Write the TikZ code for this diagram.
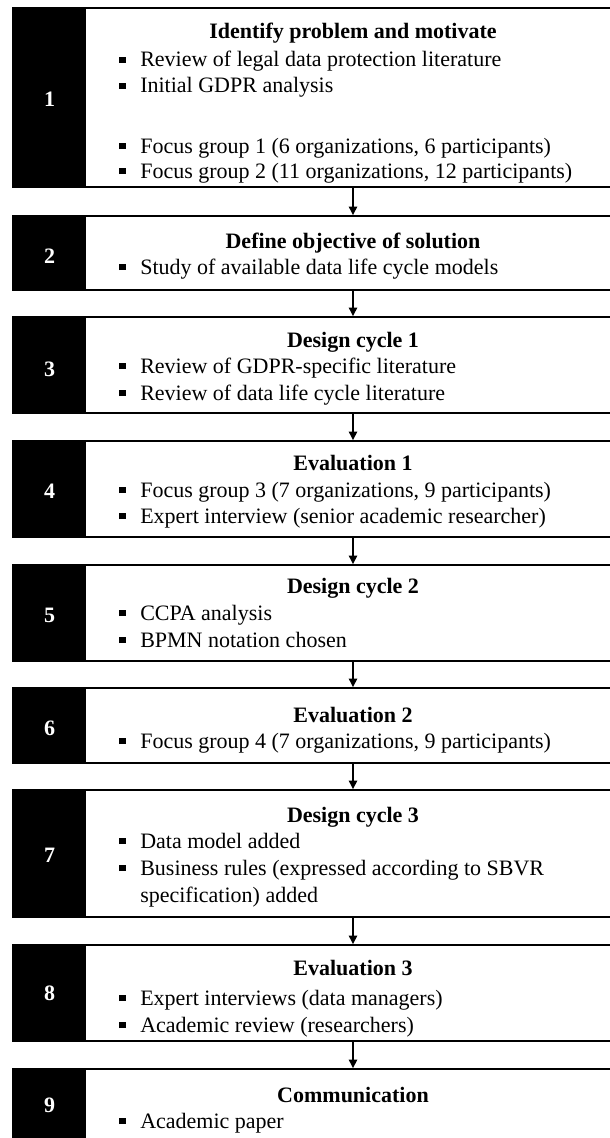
\documentclass[tikz,border=0pt]{standalone}
\usepackage{fontspec}
\setmainfont{Liberation Serif}
\usetikzlibrary{arrows.meta,fit}

% square bullet followed by the hanging indent of the item text
\newcommand{\sqb}{\makebox[15.75pt][l]{\rule[3pt]{4.8pt}{4.8pt}}}

\begin{document}
\begin{tikzpicture}[
    x=0.75pt, y=-0.75pt,
    stepbox/.style={draw=black, line width=1pt, fill=white, inner sep=0pt},
    numblock/.style={fill=black, inner sep=0pt},
    numtxt/.style={text=white, font=\fontsize{16.5}{19}\selectfont\bfseries, inner sep=0pt, anchor=base},
    ttl/.style={font=\fontsize{16.5}{19}\selectfont\bfseries, inner sep=0pt, anchor=base},
    item/.style={font=\fontsize{16.5}{19}\selectfont, inner sep=0pt, anchor=base west},
    arr/.style={line width=1.5pt, -{Triangle[length=6.5pt, width=6pt]}}
  ]
  \useasboundingbox (0,0) rectangle (610,1138);
  \clip (0,0) rectangle (610,1138);
  \coordinate (ax) at (353,0);

  % step 1
  \node[stepbox, fit={(13,8) (640,187)}] (b1) {};
  \node[numblock, fit={(13,8) (86,187)}] (n1) {};
  \node[numtxt] (d1) at (49.5,107) {1};
  \node[ttl] (t1) at (353,39) {Identify problem and motivate};
  \node[item] (i1a) at (119,67) {\sqb Review of legal data protection literature};
  \node[item] (i1b) at (119,93) {\sqb Initial GDPR analysis};
  \node[item] (i1c) at (119,153) {\sqb Focus group 1 (6 organizations, 6 participants)};
  \node[item] (i1d) at (119,178) {\sqb Focus group 2 (11 organizations, 12 participants)};

  % step 2
  \node[stepbox, fit={(13,216) (640,290)}] (b2) {};
  \node[numblock, fit={(13,216) (86,290)}] (n2) {};
  \node[numtxt] (d2) at (49.5,263) {2};
  \node[ttl] (t2) at (353,248) {Define objective of solution};
  \node[item] (i2a) at (119,274) {\sqb Study of available data life cycle models};

  % step 3
  \node[stepbox, fit={(13,317) (640,413)}] (b3) {};
  \node[numblock, fit={(13,317) (86,413)}] (n3) {};
  \node[numtxt] (d3) at (49.5,376) {3};
  \node[ttl] (t3) at (353,347) {Design cycle 1};
  \node[item] (i3a) at (119,373) {\sqb Review of GDPR-specific literature};
  \node[item] (i3b) at (119,400) {\sqb Review of data life cycle literature};

  % step 4
  \node[stepbox, fit={(13,441) (640,537)}] (b4) {};
  \node[numblock, fit={(13,441) (86,537)}] (n4) {};
  \node[numtxt] (d4) at (49.5,498) {4};
  \node[ttl] (t4) at (353,470) {Evaluation 1};
  \node[item] (i4a) at (119,497) {\sqb Focus group 3 (7 organizations, 9 participants)};
  \node[item] (i4b) at (119,523) {\sqb Expert interview (senior academic researcher)};

  % step 5
  \node[stepbox, fit={(13,565) (640,661)}] (b5) {};
  \node[numblock, fit={(13,565) (86,661)}] (n5) {};
  \node[numtxt] (d5) at (49.5,622) {5};
  \node[ttl] (t5) at (353,593) {Design cycle 2};
  \node[item] (i5a) at (119,620) {\sqb CCPA analysis};
  \node[item] (i5b) at (119,647) {\sqb BPMN notation chosen};

  % step 6
  \node[stepbox, fit={(13,688) (640,763)}] (b6) {};
  \node[numblock, fit={(13,688) (86,763)}] (n6) {};
  \node[numtxt] (d6) at (49.5,735) {6};
  \node[ttl] (t6) at (353,722) {Evaluation 2};
  \node[item] (i6a) at (119,748) {\sqb Focus group 4 (7 organizations, 9 participants)};

  % step 7
  \node[stepbox, fit={(13,790) (640,917)}] (b7) {};
  \node[numblock, fit={(13,790) (86,917)}] (n7) {};
  \node[numtxt] (d7) at (49.5,862) {7};
  \node[ttl] (t7) at (353,822) {Design cycle 3};
  \node[item] (i7a) at (119,848) {\sqb Data model added};
  \node[item] (i7b) at (119,875) {\sqb Business rules (expressed according to SBVR};
  \node[item] (i7c) at (119,902) {\hspace{15.75pt}specification) added};

  % step 8
  \node[stepbox, fit={(13,945) (640,1041)}] (b8) {};
  \node[numblock, fit={(13,945) (86,1041)}] (n8) {};
  \node[numtxt] (d8) at (49.5,1000) {8};
  \node[ttl] (t8) at (353,975) {Evaluation 3};
  \node[item] (i8a) at (119,1005) {\sqb Expert interviews (data managers)};
  \node[item] (i8b) at (119,1032) {\sqb Academic review (researchers)};

  % step 9
  \node[stepbox, fit={(13,1069) (640,1170)}] (b9) {};
  \node[numblock, fit={(13,1069) (86,1170)}] (n9) {};
  \node[numtxt] (d9) at (49.5,1112) {9};
  \node[ttl] (t9) at (353,1102) {Communication};
  \node[item] (i9a) at (119,1128) {\sqb Academic paper};

  % flow between steps
  \foreach \a/\b in {b1/b2,b2/b3,b3/b4,b4/b5,b5/b6,b6/b7,b7/b8,b8/b9}
    \draw[arr] (\a.south -| ax) -- (\b.north -| ax);
\end{tikzpicture}
\end{document}
